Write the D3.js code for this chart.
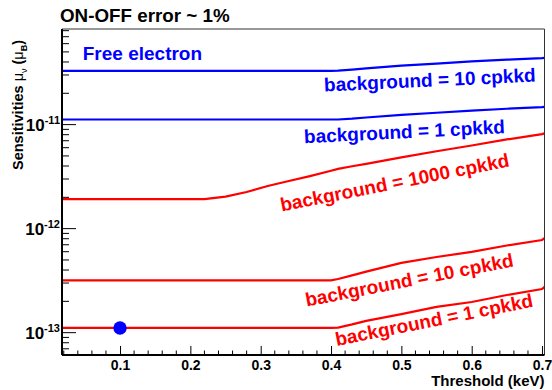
<!DOCTYPE html>
<html>
<head>
<meta charset="utf-8">
<script src="https://cdn.jsdelivr.net/npm/d3@7"></script>
<style>
  body { margin: 0; background: #fff; }
  text { font-family: "Liberation Sans", Arial, sans-serif; font-weight: bold; }
</style>
</head>
<body>
<div id="target"></div>
<script>
// threshold grid (keV) shared by every curve
var thresholds = [0.0175, 0.10, 0.20, 0.22, 0.25, 0.28, 0.31, 0.34, 0.37, 0.40, 0.41, 0.43, 0.45, 0.50, 0.55, 0.60, 0.65, 0.70, 0.7035];

// sensitivities (mu_B)
var freeBg10 = [3.28e-11, 3.28e-11, 3.28e-11, 3.28e-11, 3.28e-11, 3.28e-11, 3.28e-11, 3.28e-11, 3.28e-11, 3.28e-11, 3.30e-11, 3.38e-11, 3.47e-11, 3.69e-11, 3.86e-11, 4.05e-11, 4.21e-11, 4.36e-11, 4.38e-11];
var freeBg1 = [1.12e-11, 1.12e-11, 1.12e-11, 1.12e-11, 1.12e-11, 1.12e-11, 1.12e-11, 1.12e-11, 1.12e-11, 1.12e-11, 1.12e-11, 1.14e-11, 1.17e-11, 1.24e-11, 1.30e-11, 1.36e-11, 1.42e-11, 1.47e-11, 1.48e-11];
var bg1000 = [1.92e-12, 1.92e-12, 1.92e-12, 1.92e-12, 2.03e-12, 2.25e-12, 2.57e-12, 2.87e-12, 3.20e-12, 3.60e-12, 3.75e-12, 3.98e-12, 4.20e-12, 4.84e-12, 5.55e-12, 6.30e-12, 7.20e-12, 8.10e-12, 8.23e-12];
var bg10 = [3.18e-13, 3.18e-13, 3.18e-13, 3.18e-13, 3.18e-13, 3.18e-13, 3.18e-13, 3.18e-13, 3.18e-13, 3.18e-13, 3.28e-13, 3.55e-13, 3.86e-13, 4.68e-13, 5.34e-13, 5.97e-13, 6.89e-13, 7.78e-13, 8.09e-13];
var bg1 = [1.11e-13, 1.11e-13, 1.11e-13, 1.11e-13, 1.11e-13, 1.11e-13, 1.11e-13, 1.11e-13, 1.11e-13, 1.11e-13, 1.12e-13, 1.20e-13, 1.30e-13, 1.51e-13, 1.77e-13, 1.97e-13, 2.30e-13, 2.63e-13, 2.75e-13];

var seriesValues = [freeBg10, freeBg1, bg1000, bg10, bg1];
var seriesColors = ["#0000ff", "#0000ff", "#ff0000", "#ff0000", "#ff0000"];

// labels: text, anchor point (keV, mu_B), rotation
var labelTexts = ["Free electron", "background = 10 cpkkd", "background = 1 cpkkd", "background = 1000 cpkkd", "background = 10 cpkkd", "background = 1 cpkkd"];
var labelX = [0.047, 0.3905, 0.362, 0.3299, 0.3654, 0.4081];
var labelY = [4.2e-11, 2.08e-11, 6.62e-12, 1.46e-12, 1.78e-13, 7.45e-14];
var labelAngle = [0, -2.7, -2.85, -11.2, -11.0, -11.3];
var labelColors = ["#0000ff", "#0000ff", "#0000ff", "#ff0000", "#ff0000", "#ff0000"];

// the single marker
var markerX = [0.1];
var markerY = [1.11e-13];

var xTicks = [0.1, 0.2, 0.3, 0.4, 0.5, 0.6, 0.7];
var yTicks = [1e-13, 1e-12, 1e-11];
var yTickExp = ["-13", "-12", "-11"];

var WIDTH = 552, HEIGHT = 390;
var margin = {left: 62, top: 29, right: 7.5, bottom: 35};
var innerW = WIDTH - margin.left - margin.right;
var innerH = HEIGHT - margin.top - margin.bottom;

var svg = d3.select("#target").append("svg").attr("width", WIDTH).attr("height", HEIGHT);
var g = svg.append("g").attr("transform", "translate(" + margin.left + "," + margin.top + ")");

var x = d3.scaleLinear().domain([0.0175, 0.7035]).range([0, innerW]);
var y = d3.scaleLog().domain([6.1e-14, 8.3e-11]).range([innerH, 0]);

svg.append("defs").append("clipPath").attr("id", "clip")
  .append("rect").attr("width", innerW).attr("height", innerH);

// curves
var line = d3.line()
  .x(function(d, i) { return x(thresholds[i]); })
  .y(function(d) { return y(d); });

var plot = g.append("g").attr("clip-path", "url(#clip)");
seriesValues.forEach(function(vals, i) {
  plot.append("path")
    .attr("d", line(vals))
    .attr("fill", "none")
    .attr("stroke", seriesColors[i])
    .attr("stroke-width", 2.2);
});

plot.selectAll("circle.m")
  .data(markerX)
  .enter()
  .append("circle")
  .attr("class", "m")
  .attr("cx", function(d) { return x(d); })
  .attr("cy", function(d, i) { return y(markerY[i]); })
  .attr("r", 6.7)
  .attr("fill", "#0000ff");

// frame
g.append("line").attr("x1", 0).attr("x2", innerW).attr("y1", 0).attr("y2", 0).attr("stroke", "#333").attr("stroke-width", 1);
g.append("line").attr("x1", innerW).attr("x2", innerW).attr("y1", 0).attr("y2", innerH).attr("stroke", "#333").attr("stroke-width", 1);

// x axis
var xAxis = d3.axisBottom(x).tickValues(xTicks).tickSizeInner(-9).tickSizeOuter(0).tickPadding(5)
  .tickFormat(d3.format(".1f"));
var gx = g.append("g").attr("transform", "translate(0," + innerH + ")").call(xAxis);
gx.select(".domain").remove();
gx.selectAll(".tick line").attr("stroke", "#000").attr("stroke-width", 1);
gx.selectAll(".tick text").attr("font-size", 14).attr("fill", "#000")
  .attr("font-family", "Liberation Sans, Arial, sans-serif").attr("font-weight", "bold");

var xMinor = d3.range(0.02, 0.7035, 0.02).filter(function(v) {
  return Math.abs(Math.round(v * 10) - v * 10) > 1e-6;
});
g.selectAll("line.xminor")
  .data(xMinor)
  .enter()
  .append("line")
  .attr("class", "xminor")
  .attr("x1", function(d) { return x(d); })
  .attr("x2", function(d) { return x(d); })
  .attr("y1", innerH)
  .attr("y2", innerH - 4.5)
  .attr("stroke", "#000");

// y axis
var yMinor = [];
[-14, -13, -12, -11].forEach(function(e) {
  for (var k = 2; k <= 9; k++) {
    var v = k * Math.pow(10, e);
    if (v >= 6.1e-14 && v <= 8.3e-11) yMinor.push(v);
  }
});
g.selectAll("line.yminor")
  .data(yMinor)
  .enter()
  .append("line")
  .attr("class", "yminor")
  .attr("x1", 0)
  .attr("x2", 7)
  .attr("y1", function(d) { return y(d); })
  .attr("y2", function(d) { return y(d); })
  .attr("stroke", "#000");

g.selectAll("line.ymajor")
  .data(yTicks)
  .enter()
  .append("line")
  .attr("class", "ymajor")
  .attr("x1", 0)
  .attr("x2", 14)
  .attr("y1", function(d) { return y(d); })
  .attr("y2", function(d) { return y(d); })
  .attr("stroke", "#000");

var ylab = g.selectAll("text.ylab")
  .data(yTicks)
  .enter()
  .append("text")
  .attr("class", "ylab")
  .attr("x", -2)
  .attr("y", function(d) { return y(d) + 6; })
  .attr("text-anchor", "end")
  .attr("fill", "#000");
ylab.append("tspan").attr("font-size", 17).text("10");
ylab.append("tspan").attr("font-size", 11).attr("dy", -7).text(function(d, i) { return yTickExp[i]; });

// axis lines
g.append("line").attr("x1", 0).attr("x2", innerW).attr("y1", innerH).attr("y2", innerH).attr("stroke", "#000").attr("stroke-width", 2);
g.append("line").attr("x1", 0).attr("x2", 0).attr("y1", 0).attr("y2", innerH).attr("stroke", "#000").attr("stroke-width", 2);

// curve labels
g.selectAll("text.lab")
  .data(labelTexts)
  .enter()
  .append("text")
  .attr("class", "lab")
  .attr("transform", function(d, i) {
    return "translate(" + x(labelX[i]) + "," + y(labelY[i]) + ") rotate(" + labelAngle[i] + ")";
  })
  .attr("font-size", 19)
  .attr("fill", function(d, i) { return labelColors[i]; })
  .text(function(d) { return d; });

// titles
svg.append("text").attr("x", 60).attr("y", 22).attr("font-size", 18.8).attr("fill", "#000").text("ON-OFF error ~ 1%");

svg.append("text").attr("x", margin.left + innerW).attr("y", 386).attr("text-anchor", "end")
  .attr("font-size", 15).attr("fill", "#000").text("Threshold (keV)");

var yt = svg.append("text").attr("transform", "translate(22.5,170) rotate(-90)").attr("font-size", 14.5).attr("fill", "#000");
yt.append("tspan").text("Sensitivities ");
yt.append("tspan").attr("font-weight", "normal").text("\u03bc");
yt.append("tspan").attr("font-weight", "normal").attr("font-size", 9).attr("dy", 4).text("\u03bd");
yt.append("tspan").attr("dy", -4).text(" (");
yt.append("tspan").attr("font-weight", "normal").text("\u03bc");
yt.append("tspan").attr("font-size", 9).attr("dy", 4).text("B");
yt.append("tspan").attr("dy", -4).text(")");
</script>
</body>
</html>
